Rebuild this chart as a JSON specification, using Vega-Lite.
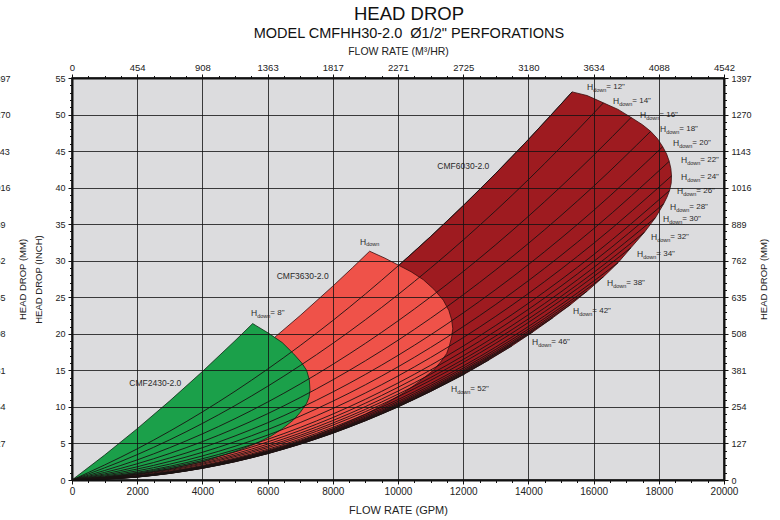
{
  "$schema": "https://vega.github.io/schema/vega-lite/v6.json",
  "width": 652,
  "height": 402,
  "autosize": {"type": "none"},
  "padding": {"left": 72, "top": 78, "right": 56, "bottom": 40},
  "background": "white",
  "config": {
    "font": "Liberation Sans",
    "view": {"fill": "#dcdcde", "stroke": "#111", "strokeWidth": 1.5}
  },
  "title": {
    "text": "HEAD DROP",
    "subtitle": "MODEL CMFHH30-2.0\u00a0\u00a0Ø1/2\" PERFORATIONS",
    "font": "Liberation Sans",
    "subtitleFont": "Liberation Sans",
    "fontSize": 18.5,
    "fontWeight": "normal",
    "subtitleFontSize": 14.5,
    "color": "#111",
    "subtitleColor": "#111",
    "anchor": "middle",
    "dx": 11,
    "offset": 6,
    "subtitlePadding": 3
  },
  "datasets": {
    "dark": [
      {"s": 1, "x": 0, "y": 0}, {"s": 2, "x": 1000, "y": 2.03}, {"s": 3, "x": 2000, "y": 4.26}, {"s": 4, "x": 3000, "y": 6.68},
      {"s": 5, "x": 4000, "y": 9.31}, {"s": 6, "x": 5000, "y": 12.14}, {"s": 7, "x": 6000, "y": 15.17}, {"s": 8, "x": 7000, "y": 18.4},
      {"s": 9, "x": 8000, "y": 21.82}, {"s": 10, "x": 9000, "y": 25.45}, {"s": 11, "x": 10000, "y": 29.28}, {"s": 12, "x": 11000, "y": 33.31},
      {"s": 13, "x": 12000, "y": 37.54}, {"s": 14, "x": 13000, "y": 41.96}, {"s": 15, "x": 14000, "y": 46.59}, {"s": 16, "x": 15000, "y": 51.42},
      {"s": 17, "x": 15340, "y": 53.1}, {"s": 18, "x": 15800, "y": 52.6}, {"s": 19, "x": 16300, "y": 51.6}, {"s": 20, "x": 16750, "y": 50.7},
      {"s": 21, "x": 17150, "y": 49.6}, {"s": 22, "x": 17500, "y": 48.6}, {"s": 23, "x": 17750, "y": 47.7}, {"s": 24, "x": 17960, "y": 46.7},
      {"s": 25, "x": 18120, "y": 45.6}, {"s": 26, "x": 18240, "y": 44.6}, {"s": 27, "x": 18320, "y": 43.6}, {"s": 28, "x": 18370, "y": 42.6},
      {"s": 29, "x": 18390, "y": 41.6}, {"s": 30, "x": 18380, "y": 40.6}, {"s": 31, "x": 18330, "y": 39.6}, {"s": 32, "x": 18250, "y": 38.7},
      {"s": 33, "x": 18150, "y": 37.8}, {"s": 34, "x": 17900, "y": 35.9}, {"s": 35, "x": 17560, "y": 33.9}, {"s": 36, "x": 17150, "y": 31.8},
      {"s": 37, "x": 16750, "y": 29.73}, {"s": 38, "x": 16300, "y": 27.79}, {"s": 39, "x": 15800, "y": 25.83}, {"s": 40, "x": 15300, "y": 24.02},
      {"s": 41, "x": 14750, "y": 22.2}, {"s": 42, "x": 14150, "y": 20.3}, {"s": 43, "x": 13500, "y": 18.36}, {"s": 44, "x": 12800, "y": 16.45},
      {"s": 45, "x": 12050, "y": 14.52}, {"s": 46, "x": 11000, "y": 12.1}, {"s": 47, "x": 10000, "y": 10.0}, {"s": 48, "x": 9000, "y": 8.1},
      {"s": 49, "x": 8000, "y": 6.4}, {"s": 50, "x": 7000, "y": 4.9}, {"s": 51, "x": 6000, "y": 3.6}, {"s": 52, "x": 5000, "y": 2.5},
      {"s": 53, "x": 4000, "y": 1.6}, {"s": 54, "x": 3000, "y": 0.9}, {"s": 55, "x": 2000, "y": 0.4}, {"s": 56, "x": 1000, "y": 0.1}
    ],
    "light": [
      {"s": 1, "x": 0, "y": 0}, {"s": 2, "x": 1000, "y": 2.62}, {"s": 3, "x": 2000, "y": 5.43}, {"s": 4, "x": 3000, "y": 8.45},
      {"s": 5, "x": 4000, "y": 11.66}, {"s": 6, "x": 5000, "y": 15.08}, {"s": 7, "x": 6000, "y": 18.69}, {"s": 8, "x": 7000, "y": 22.5},
      {"s": 9, "x": 8000, "y": 26.52}, {"s": 10, "x": 8600, "y": 29.03}, {"s": 11, "x": 9130, "y": 31.3}, {"s": 12, "x": 9600, "y": 30.35},
      {"s": 13, "x": 10010, "y": 29.4}, {"s": 14, "x": 10400, "y": 28.5}, {"s": 15, "x": 10777, "y": 27.4}, {"s": 16, "x": 11100, "y": 26.1},
      {"s": 17, "x": 11390, "y": 24.6}, {"s": 18, "x": 11560, "y": 23.2}, {"s": 19, "x": 11647, "y": 21.9}, {"s": 20, "x": 11680, "y": 20.7},
      {"s": 21, "x": 11647, "y": 19.6}, {"s": 22, "x": 11580, "y": 18.4}, {"s": 23, "x": 11493, "y": 17.3}, {"s": 24, "x": 11300, "y": 16.1},
      {"s": 25, "x": 11083, "y": 15.0}, {"s": 26, "x": 10830, "y": 14.1}, {"s": 27, "x": 10573, "y": 13.2}, {"s": 28, "x": 10200, "y": 12.0},
      {"s": 29, "x": 9600, "y": 10.4}, {"s": 30, "x": 9000, "y": 9.0}, {"s": 31, "x": 8000, "y": 7.0}, {"s": 32, "x": 7000, "y": 5.3},
      {"s": 33, "x": 6000, "y": 3.95}, {"s": 34, "x": 5000, "y": 2.85}, {"s": 35, "x": 4000, "y": 1.85}, {"s": 36, "x": 3000, "y": 1.05},
      {"s": 37, "x": 2000, "y": 0.5}, {"s": 38, "x": 1000, "y": 0.15}
    ],
    "green": [
      {"s": 1, "x": 0, "y": 0}, {"s": 2, "x": 1000, "y": 3.41}, {"s": 3, "x": 2000, "y": 7.02}, {"s": 4, "x": 3000, "y": 10.83},
      {"s": 5, "x": 4000, "y": 14.84}, {"s": 6, "x": 5000, "y": 19.05}, {"s": 7, "x": 5542, "y": 21.4}, {"s": 8, "x": 6022, "y": 20.1},
      {"s": 9, "x": 6450, "y": 18.8}, {"s": 10, "x": 6790, "y": 17.3}, {"s": 11, "x": 7050, "y": 16.0}, {"s": 12, "x": 7198, "y": 15.0},
      {"s": 13, "x": 7280, "y": 13.7}, {"s": 14, "x": 7301, "y": 12.3}, {"s": 15, "x": 7270, "y": 11.3}, {"s": 16, "x": 7198, "y": 10.5},
      {"s": 17, "x": 7010, "y": 9.3}, {"s": 18, "x": 6790, "y": 8.2}, {"s": 19, "x": 6450, "y": 7.0}, {"s": 20, "x": 6100, "y": 6.0},
      {"s": 21, "x": 5600, "y": 4.9}, {"s": 22, "x": 5000, "y": 3.9}, {"s": 23, "x": 4000, "y": 2.5}, {"s": 24, "x": 3000, "y": 1.5},
      {"s": 25, "x": 2000, "y": 0.8}, {"s": 26, "x": 1000, "y": 0.3}
    ],
    "curves": [
      {"h": 12, "x": 0, "y": 0}, {"h": 12, "x": 2000, "y": 4.26}, {"h": 12, "x": 4000, "y": 9.31}, {"h": 12, "x": 6000, "y": 15.17}, {"h": 12, "x": 8000, "y": 21.82}, {"h": 12, "x": 10000, "y": 29.28}, {"h": 12, "x": 12000, "y": 37.54}, {"h": 12, "x": 14000, "y": 46.59}, {"h": 12, "x": 15340, "y": 53.1},
      {"h": 14, "x": 0, "y": 0}, {"h": 14, "x": 2000, "y": 3.47}, {"h": 14, "x": 4000, "y": 7.74}, {"h": 14, "x": 6000, "y": 12.82}, {"h": 14, "x": 8000, "y": 18.69}, {"h": 14, "x": 10000, "y": 25.36}, {"h": 14, "x": 12000, "y": 32.83}, {"h": 14, "x": 14000, "y": 41.1}, {"h": 14, "x": 16000, "y": 50.18}, {"h": 14, "x": 16300, "y": 51.6},
      {"h": 16, "x": 0, "y": 0}, {"h": 16, "x": 2000, "y": 2.75}, {"h": 16, "x": 4000, "y": 6.31}, {"h": 16, "x": 6000, "y": 10.66}, {"h": 16, "x": 8000, "y": 15.82}, {"h": 16, "x": 10000, "y": 21.77}, {"h": 16, "x": 12000, "y": 28.52}, {"h": 16, "x": 14000, "y": 36.08}, {"h": 16, "x": 16000, "y": 44.43}, {"h": 16, "x": 17150, "y": 49.6},
      {"h": 18, "x": 0, "y": 0}, {"h": 18, "x": 2000, "y": 2.22}, {"h": 18, "x": 4000, "y": 5.25}, {"h": 18, "x": 6000, "y": 9.07}, {"h": 18, "x": 8000, "y": 13.7}, {"h": 18, "x": 10000, "y": 19.12}, {"h": 18, "x": 12000, "y": 25.34}, {"h": 18, "x": 14000, "y": 32.37}, {"h": 18, "x": 16000, "y": 40.19}, {"h": 18, "x": 17750, "y": 47.7},
      {"h": 20, "x": 0, "y": 0}, {"h": 20, "x": 2000, "y": 1.81}, {"h": 20, "x": 4000, "y": 4.42}, {"h": 20, "x": 6000, "y": 7.83}, {"h": 20, "x": 8000, "y": 12.04}, {"h": 20, "x": 10000, "y": 17.05}, {"h": 20, "x": 12000, "y": 22.86}, {"h": 20, "x": 14000, "y": 29.47}, {"h": 20, "x": 16000, "y": 36.88}, {"h": 20, "x": 18120, "y": 45.6},
      {"h": 22, "x": 0, "y": 0}, {"h": 22, "x": 2000, "y": 1.5}, {"h": 22, "x": 4000, "y": 3.79}, {"h": 22, "x": 6000, "y": 6.89}, {"h": 22, "x": 8000, "y": 10.78}, {"h": 22, "x": 10000, "y": 15.48}, {"h": 22, "x": 12000, "y": 20.98}, {"h": 22, "x": 14000, "y": 27.27}, {"h": 22, "x": 16000, "y": 34.37}, {"h": 22, "x": 18320, "y": 43.6},
      {"h": 24, "x": 0, "y": 0}, {"h": 24, "x": 2000, "y": 1.25}, {"h": 24, "x": 4000, "y": 3.29}, {"h": 24, "x": 6000, "y": 6.14}, {"h": 24, "x": 8000, "y": 9.78}, {"h": 24, "x": 10000, "y": 14.23}, {"h": 24, "x": 12000, "y": 19.48}, {"h": 24, "x": 14000, "y": 25.52}, {"h": 24, "x": 16000, "y": 32.37}, {"h": 24, "x": 18390, "y": 41.6},
      {"h": 26, "x": 0, "y": 0}, {"h": 26, "x": 2000, "y": 1.05}, {"h": 26, "x": 4000, "y": 2.91}, {"h": 26, "x": 6000, "y": 5.56}, {"h": 26, "x": 8000, "y": 9.02}, {"h": 26, "x": 10000, "y": 13.27}, {"h": 26, "x": 12000, "y": 18.32}, {"h": 26, "x": 14000, "y": 24.18}, {"h": 26, "x": 16000, "y": 30.83}, {"h": 26, "x": 18330, "y": 39.6},
      {"h": 28, "x": 0, "y": 0}, {"h": 28, "x": 2000, "y": 0.94}, {"h": 28, "x": 4000, "y": 2.67}, {"h": 28, "x": 6000, "y": 5.21}, {"h": 28, "x": 8000, "y": 8.54}, {"h": 28, "x": 10000, "y": 12.68}, {"h": 28, "x": 12000, "y": 17.62}, {"h": 28, "x": 14000, "y": 23.35}, {"h": 28, "x": 16000, "y": 29.89}, {"h": 28, "x": 18150, "y": 37.8},
      {"h": 30, "x": 0, "y": 0}, {"h": 30, "x": 2000, "y": 0.83}, {"h": 30, "x": 4000, "y": 2.46}, {"h": 30, "x": 6000, "y": 4.9}, {"h": 30, "x": 8000, "y": 8.13}, {"h": 30, "x": 10000, "y": 12.16}, {"h": 30, "x": 12000, "y": 16.99}, {"h": 30, "x": 14000, "y": 22.62}, {"h": 30, "x": 16000, "y": 29.06}, {"h": 30, "x": 17900, "y": 35.9},
      {"h": 32, "x": 0, "y": 0}, {"h": 32, "x": 2000, "y": 0.75}, {"h": 32, "x": 4000, "y": 2.3}, {"h": 32, "x": 6000, "y": 4.64}, {"h": 32, "x": 8000, "y": 7.79}, {"h": 32, "x": 10000, "y": 11.74}, {"h": 32, "x": 12000, "y": 16.49}, {"h": 32, "x": 14000, "y": 22.04}, {"h": 32, "x": 16000, "y": 28.38}, {"h": 32, "x": 17560, "y": 33.9},
      {"h": 34, "x": 0, "y": 0}, {"h": 34, "x": 2000, "y": 0.68}, {"h": 34, "x": 4000, "y": 2.16}, {"h": 34, "x": 6000, "y": 4.43}, {"h": 34, "x": 8000, "y": 7.51}, {"h": 34, "x": 10000, "y": 11.39}, {"h": 34, "x": 12000, "y": 16.07}, {"h": 34, "x": 14000, "y": 21.55}, {"h": 34, "x": 16000, "y": 27.82}, {"h": 34, "x": 17150, "y": 31.8},
      {"h": 36, "x": 0, "y": 0}, {"h": 36, "x": 2000, "y": 0.6}, {"h": 36, "x": 4000, "y": 2.0}, {"h": 36, "x": 6000, "y": 4.2}, {"h": 36, "x": 8000, "y": 7.2}, {"h": 36, "x": 10000, "y": 11.0}, {"h": 36, "x": 12000, "y": 15.6}, {"h": 36, "x": 14000, "y": 21.0}, {"h": 36, "x": 16000, "y": 27.2}, {"h": 36, "x": 16750, "y": 29.73},
      {"h": 38, "x": 0, "y": 0}, {"h": 38, "x": 2000, "y": 0.55}, {"h": 38, "x": 4000, "y": 1.9}, {"h": 38, "x": 6000, "y": 4.05}, {"h": 38, "x": 8000, "y": 7.0}, {"h": 38, "x": 10000, "y": 10.75}, {"h": 38, "x": 12000, "y": 15.3}, {"h": 38, "x": 14000, "y": 20.65}, {"h": 38, "x": 16000, "y": 26.8}, {"h": 38, "x": 16300, "y": 27.79},
      {"h": 40, "x": 0, "y": 0}, {"h": 40, "x": 2000, "y": 0.51}, {"h": 40, "x": 4000, "y": 1.82}, {"h": 40, "x": 6000, "y": 3.93}, {"h": 40, "x": 8000, "y": 6.84}, {"h": 40, "x": 10000, "y": 10.55}, {"h": 40, "x": 12000, "y": 15.06}, {"h": 40, "x": 14000, "y": 20.37}, {"h": 40, "x": 15800, "y": 25.83},
      {"h": 42, "x": 0, "y": 0}, {"h": 42, "x": 2000, "y": 0.48}, {"h": 42, "x": 4000, "y": 1.76}, {"h": 42, "x": 6000, "y": 3.84}, {"h": 42, "x": 8000, "y": 6.72}, {"h": 42, "x": 10000, "y": 10.4}, {"h": 42, "x": 12000, "y": 14.88}, {"h": 42, "x": 14000, "y": 20.16}, {"h": 42, "x": 15300, "y": 24.02},
      {"h": 44, "x": 0, "y": 0}, {"h": 44, "x": 2000, "y": 0.46}, {"h": 44, "x": 4000, "y": 1.72}, {"h": 44, "x": 6000, "y": 3.78}, {"h": 44, "x": 8000, "y": 6.64}, {"h": 44, "x": 10000, "y": 10.3}, {"h": 44, "x": 12000, "y": 14.76}, {"h": 44, "x": 14000, "y": 20.02}, {"h": 44, "x": 14750, "y": 22.2},
      {"h": 46, "x": 0, "y": 0}, {"h": 46, "x": 2000, "y": 0.44}, {"h": 46, "x": 4000, "y": 1.68}, {"h": 46, "x": 6000, "y": 3.72}, {"h": 46, "x": 8000, "y": 6.56}, {"h": 46, "x": 10000, "y": 10.2}, {"h": 46, "x": 12000, "y": 14.64}, {"h": 46, "x": 14150, "y": 20.3},
      {"h": 48, "x": 0, "y": 0}, {"h": 48, "x": 2000, "y": 0.42}, {"h": 48, "x": 4000, "y": 1.64}, {"h": 48, "x": 6000, "y": 3.66}, {"h": 48, "x": 8000, "y": 6.48}, {"h": 48, "x": 10000, "y": 10.1}, {"h": 48, "x": 12000, "y": 14.52}, {"h": 48, "x": 13500, "y": 18.36},
      {"h": 50, "x": 0, "y": 0}, {"h": 50, "x": 2000, "y": 0.41}, {"h": 50, "x": 4000, "y": 1.62}, {"h": 50, "x": 6000, "y": 3.63}, {"h": 50, "x": 8000, "y": 6.44}, {"h": 50, "x": 10000, "y": 10.05}, {"h": 50, "x": 12000, "y": 14.46}, {"h": 50, "x": 12800, "y": 16.45},
      {"h": 52, "x": 0, "y": 0}, {"h": 52, "x": 2000, "y": 0.4}, {"h": 52, "x": 4000, "y": 1.6}, {"h": 52, "x": 6000, "y": 3.6}, {"h": 52, "x": 8000, "y": 6.4}, {"h": 52, "x": 10000, "y": 10.0}, {"h": 52, "x": 12050, "y": 14.52}
    ],
    "labels": [
      {"x": 15798, "y": 53.76, "a": "H", "b": "down", "t": "= 12\""},
      {"x": 16595, "y": 51.85, "a": "H", "b": "down", "t": "= 14\""},
      {"x": 17423, "y": 49.93, "a": "H", "b": "down", "t": "= 16\""},
      {"x": 18037, "y": 48.02, "a": "H", "b": "down", "t": "= 18\""},
      {"x": 18436, "y": 46.1, "a": "H", "b": "down", "t": "= 20\""},
      {"x": 18681, "y": 43.78, "a": "H", "b": "down", "t": "= 22\""},
      {"x": 18681, "y": 41.45, "a": "H", "b": "down", "t": "= 24\""},
      {"x": 18558, "y": 39.53, "a": "H", "b": "down", "t": "= 26\""},
      {"x": 18344, "y": 37.35, "a": "H", "b": "down", "t": "= 28\""},
      {"x": 18129, "y": 35.7, "a": "H", "b": "down", "t": "= 30\""},
      {"x": 17761, "y": 33.24, "a": "H", "b": "down", "t": "= 32\""},
      {"x": 17331, "y": 30.92, "a": "H", "b": "down", "t": "= 34\""},
      {"x": 16411, "y": 26.95, "a": "H", "b": "down", "t": "= 38\""},
      {"x": 15368, "y": 23.12, "a": "H", "b": "down", "t": "= 42\""},
      {"x": 14110, "y": 18.88, "a": "H", "b": "down", "t": "= 46\""},
      {"x": 11626, "y": 12.45, "a": "H", "b": "down", "t": "= 52\""},
      {"x": 5491, "y": 22.8, "a": "H", "b": "down", "t": "= 8\""},
      {"x": 8834, "y": 32.6, "a": "H", "b": "down", "t": ""}
    ],
    "names": [
      {"x": 11206, "y": 43.0, "n": "CMF6030-2.0"},
      {"x": 6278, "y": 27.95, "n": "CMF3630-2.0"},
      {"x": 1759, "y": 13.3, "n": "CMF2430-2.0"}
    ]
  },
  "resolve": {"axis": {"x": "independent", "y": "independent"}},
  "layer": [
    {
      "data": {"name": "dark"},
      "mark": {"type": "line", "interpolate": "linear-closed", "fill": "#9e1b20", "stroke": "#3a0c0c", "strokeWidth": 0.8},
      "encoding": {
        "x": {
          "field": "x", "type": "quantitative",
          "scale": {"domain": [0, 20000], "nice": false},
          "axis": {
            "orient": "bottom",
            "values": [0,500,1000,1500,2000,2500,3000,3500,4000,4500,5000,5500,6000,6500,7000,7500,8000,8500,9000,9500,10000,10500,11000,11500,12000,12500,13000,13500,14000,14500,15000,15500,16000,16500,17000,17500,18000,18500,19000,19500,20000],
            "labelExpr": "datum.value % 2000 === 0 ? format(datum.value, 'd') : ''",
            "labelFont": "Liberation Sans", "labelFontSize": 10, "labelColor": "#222", "labelPadding": 2,
            "labelOverlap": false, "labelFlush": false,
            "tickColor": "#111",
            "tickSize": {"condition": {"test": "datum.value % 2000 === 0", "value": 4}, "value": 2.5},
            "domainColor": "#111", "domainWidth": 2,
            "grid": true, "gridColor": "#111", "gridWidth": 1,
            "gridOpacity": {"condition": {"test": "datum.value % 2000 === 0", "value": 0.8}, "value": 0},
            "title": "FLOW RATE (GPM)", "titleFont": "Liberation Sans", "titleFontSize": 11, "titleFontWeight": "normal", "titleColor": "#222", "titlePadding": 8,
            "zindex": 1
          }
        },
        "y": {
          "field": "y", "type": "quantitative",
          "scale": {"domain": [0, 55], "nice": false},
          "axis": {
            "orient": "left",
            "values": [0,1,2,3,4,5,6,7,8,9,10,11,12,13,14,15,16,17,18,19,20,21,22,23,24,25,26,27,28,29,30,31,32,33,34,35,36,37,38,39,40,41,42,43,44,45,46,47,48,49,50,51,52,53,54,55],
            "labelExpr": "datum.value % 5 === 0 ? format(datum.value, 'd') : ''",
            "labelFont": "Liberation Sans", "labelFontSize": 9, "labelColor": "#222", "labelPadding": 3,
            "labelOverlap": false, "labelFlush": false,
            "tickColor": "#111",
            "tickSize": {"condition": {"test": "datum.value % 5 === 0", "value": 4}, "value": 2.5},
            "domainColor": "#111", "domainWidth": 2,
            "grid": true, "gridColor": "#111", "gridWidth": 1,
            "gridOpacity": {"condition": {"test": "datum.value % 5 === 0", "value": 0.8}, "value": 0},
            "title": "HEAD DROP (INCH)", "titleFont": "Liberation Sans", "titleFontSize": 9.5, "titleFontWeight": "normal", "titleColor": "#222",
            "titleX": -34, "titleY": 201, "titleAngle": -90, "titleAlign": "center", "titleBaseline": "middle",
            "zindex": 1
          }
        },
        "order": {"field": "s", "type": "quantitative"}
      }
    },
    {
      "data": {"name": "light"},
      "mark": {"type": "line", "interpolate": "linear-closed", "fill": "#ef5249", "stroke": "#3a0c0c", "strokeWidth": 0.8},
      "encoding": {
        "x": {"field": "x", "type": "quantitative", "axis": null},
        "y": {"field": "y", "type": "quantitative", "axis": null},
        "order": {"field": "s", "type": "quantitative"}
      }
    },
    {
      "data": {"name": "green"},
      "mark": {"type": "line", "interpolate": "linear-closed", "fill": "#1ba04a", "stroke": "#0d2a14", "strokeWidth": 0.8},
      "encoding": {
        "x": {"field": "x", "type": "quantitative", "axis": null},
        "y": {"field": "y", "type": "quantitative", "axis": null},
        "order": {"field": "s", "type": "quantitative"}
      }
    },
    {
      "data": {"name": "curves"},
      "mark": {"type": "line", "interpolate": "monotone", "stroke": "#1a1212", "strokeWidth": 0.9},
      "encoding": {
        "x": {
          "field": "x", "type": "quantitative",
          "axis": {
            "orient": "top",
            "values": [0,500,1000,1500,2000,2500,3000,3500,4000,4500,5000,5500,6000,6500,7000,7500,8000,8500,9000,9500,10000,10500,11000,11500,12000,12500,13000,13500,14000,14500,15000,15500,16000,16500,17000,17500,18000,18500,19000,19500,20000],
            "labelExpr": "datum.value % 2000 === 0 ? format(round(datum.value * 0.22712), 'd') : ''",
            "labelFont": "Liberation Sans", "labelFontSize": 9.5, "labelColor": "#222", "labelPadding": 2,
            "labelOverlap": false, "labelFlush": false,
            "tickColor": "#111",
            "tickSize": {"condition": {"test": "datum.value % 2000 === 0", "value": 4}, "value": 2.5},
            "domainColor": "#111", "domainWidth": 2, "grid": false,
            "title": "FLOW RATE (M³/HR)", "titleFont": "Liberation Sans", "titleFontSize": 10.5, "titleFontWeight": "normal", "titleColor": "#222", "titlePadding": 6,
            "zindex": 1
          }
        },
        "y": {
          "field": "y", "type": "quantitative",
          "axis": {
            "orient": "right",
            "values": [0,1,2,3,4,5,6,7,8,9,10,11,12,13,14,15,16,17,18,19,20,21,22,23,24,25,26,27,28,29,30,31,32,33,34,35,36,37,38,39,40,41,42,43,44,45,46,47,48,49,50,51,52,53,54,55],
            "labelExpr": "datum.value % 5 === 0 ? format(round(datum.value * 25.4), 'd') : ''",
            "labelFont": "Liberation Sans", "labelFontSize": 9, "labelColor": "#222", "labelPadding": 3,
            "labelOverlap": false, "labelFlush": false,
            "tickColor": "#111",
            "tickSize": {"condition": {"test": "datum.value % 5 === 0", "value": 4}, "value": 2.5},
            "domainColor": "#111", "domainWidth": 2, "grid": false,
            "title": "HEAD DROP (MM)", "titleFont": "Liberation Sans", "titleFontSize": 9.5, "titleFontWeight": "normal", "titleColor": "#222",
            "titleX": 39, "titleY": 201, "titleAngle": -90, "titleAlign": "center", "titleBaseline": "middle",
            "zindex": 1
          }
        },
        "detail": {"field": "h", "type": "nominal"}
      }
    },
    {
      "data": {"name": "labels"},
      "mark": {"type": "text", "align": "left", "baseline": "middle", "font": "Liberation Sans", "fontSize": 8.5, "fill": "#2a2a2a"},
      "encoding": {
        "x": {"field": "x", "type": "quantitative", "axis": null},
        "y": {
          "field": "y", "type": "quantitative",
          "axis": {
            "orient": "right", "offset": -741,
            "values": [0,5,10,15,20,25,30,35,40,45,50,55],
            "labelExpr": "format(round(datum.value * 25.4), 'd')",
            "labelFont": "Liberation Sans", "labelFontSize": 9, "labelColor": "#222", "labelPadding": 3,
            "labelOverlap": false, "labelFlush": false,
            "ticks": true, "tickSize": 4, "tickColor": "#111", "domain": true, "domainColor": "#111", "grid": false,
            "title": "HEAD DROP (MM)", "titleFont": "Liberation Sans", "titleFontSize": 9.5, "titleFontWeight": "normal", "titleColor": "#222",
            "titleX": 39, "titleY": 201, "titleAngle": -90, "titleAlign": "center", "titleBaseline": "middle"
          }
        },
        "text": {"field": "a", "type": "nominal"}
      }
    },
    {
      "data": {"name": "labels"},
      "mark": {"type": "text", "align": "left", "baseline": "middle", "dx": 6.2, "dy": 2.5, "font": "Liberation Sans", "fontSize": 5.5, "fill": "#2a2a2a"},
      "encoding": {
        "x": {"field": "x", "type": "quantitative", "axis": null},
        "y": {"field": "y", "type": "quantitative", "axis": null},
        "text": {"field": "b", "type": "nominal"}
      }
    },
    {
      "data": {"name": "labels"},
      "mark": {"type": "text", "align": "left", "baseline": "middle", "dx": 19.3, "font": "Liberation Sans", "fontSize": 8, "fill": "#2a2a2a"},
      "encoding": {
        "x": {"field": "x", "type": "quantitative", "axis": null},
        "y": {"field": "y", "type": "quantitative", "axis": null},
        "text": {"field": "t", "type": "nominal"}
      }
    },
    {
      "data": {"name": "names"},
      "mark": {"type": "text", "align": "left", "baseline": "middle", "font": "Liberation Sans", "fontSize": 8.5, "fill": "#2a2a2a"},
      "encoding": {
        "x": {"field": "x", "type": "quantitative", "axis": null},
        "y": {"field": "y", "type": "quantitative", "axis": null},
        "text": {"field": "n", "type": "nominal"}
      }
    }
  ]
}
